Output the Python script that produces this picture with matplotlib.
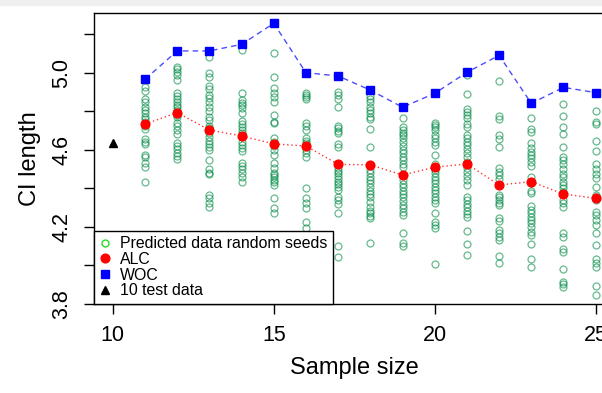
import numpy as np
import matplotlib
matplotlib.use('Agg')
import matplotlib.pyplot as plt
from matplotlib.lines import Line2D
from matplotlib.patches import Rectangle

plt.rcParams['font.family'] = ['Liberation Sans', 'DejaVu Sans']

# sample sizes and summary curves
sizes = list(range(11, 26))
alc = [4.733, 4.792, 4.702, 4.671, 4.630, 4.619, 4.524, 4.521,
       4.469, 4.509, 4.526, 4.417, 4.434, 4.370, 4.348]
woc = [4.965, 5.112, 5.112, 5.146, 5.255, 4.999, 4.982, 4.909,
       4.820, 4.892, 5.001, 5.089, 4.840, 4.923, 4.896]

# the 10 test data point
test_size = 10
test_ci = 4.633

# CI length for each random seed, one list per sample size
seed_ci = [
    [4.927, 4.906, 4.861, 4.847, 4.820, 4.806, 4.788, 4.771, 4.757, 4.743,
     4.723, 4.709, 4.657, 4.640, 4.629, 4.572, 4.560, 4.529, 4.512, 4.434],
    [5.030, 5.017, 5.003, 4.986, 4.961, 4.892, 4.878, 4.861, 4.849, 4.832,
     4.820, 4.806, 4.780, 4.768, 4.737, 4.723, 4.702, 4.681, 4.636, 4.619,
     4.602, 4.581, 4.567, 4.550],
    [5.082, 4.996, 4.975, 4.930, 4.916, 4.884, 4.866, 4.849, 4.820, 4.802,
     4.768, 4.754, 4.723, 4.711, 4.685, 4.664, 4.647, 4.630, 4.616, 4.598,
     4.547, 4.498, 4.481, 4.472, 4.365, 4.348, 4.325, 4.301],
    [5.117, 4.896, 4.858, 4.844, 4.830, 4.814, 4.792, 4.750, 4.733, 4.719,
     4.702, 4.685, 4.668, 4.642, 4.624, 4.607, 4.595, 4.533, 4.515, 4.498,
     4.477, 4.457, 4.434],
    [5.103, 4.975, 4.918, 4.896, 4.871, 4.849, 4.780, 4.745, 4.737, 4.659,
     4.642, 4.619, 4.598, 4.572, 4.529, 4.503, 4.481, 4.469, 4.457, 4.443,
     4.431, 4.417, 4.348, 4.296, 4.270],
    [4.896, 4.884, 4.871, 4.861, 4.740, 4.723, 4.702, 4.659, 4.647, 4.633,
     4.616, 4.598, 4.585, 4.564, 4.400, 4.348, 4.325, 4.299, 4.227, 4.192],
    [4.901, 4.884, 4.861, 4.820, 4.723, 4.711, 4.699, 4.685, 4.630, 4.616,
     4.503, 4.491, 4.477, 4.464, 4.450, 4.434, 4.422, 4.408, 4.391, 4.357,
     4.339, 4.318, 4.274, 4.101, 4.045],
    [4.878, 4.865, 4.849, 4.820, 4.806, 4.788, 4.771, 4.757, 4.706, 4.616,
     4.495, 4.477, 4.460, 4.443, 4.426, 4.408, 4.388, 4.370, 4.353, 4.331,
     4.305, 4.284, 4.270, 4.256, 4.244, 4.115],
    [4.763, 4.716, 4.702, 4.688, 4.676, 4.659, 4.642, 4.619, 4.598, 4.581,
     4.560, 4.547, 4.526, 4.509, 4.443, 4.422, 4.405, 4.388, 4.370, 4.353,
     4.336, 4.313, 4.296, 4.279, 4.261, 4.170, 4.118, 4.101],
    [4.740, 4.728, 4.716, 4.702, 4.676, 4.659, 4.642, 4.624, 4.572, 4.526,
     4.512, 4.495, 4.477, 4.460, 4.443, 4.426, 4.408, 4.391, 4.374, 4.357,
     4.339, 4.325, 4.270, 4.227, 4.210, 4.192, 4.007],
    [4.987, 4.889, 4.809, 4.797, 4.780, 4.763, 4.733, 4.716, 4.676, 4.659,
     4.642, 4.624, 4.602, 4.581, 4.560, 4.538, 4.503, 4.486, 4.464, 4.443,
     4.417, 4.357, 4.339, 4.318, 4.301, 4.284, 4.267, 4.249, 4.180, 4.111,
     4.054],
    [4.956, 4.775, 4.757, 4.676, 4.654, 4.612, 4.503, 4.486, 4.469, 4.446,
     4.365, 4.353, 4.339, 4.325, 4.313, 4.244, 4.232, 4.184, 4.166, 4.149,
     4.132, 4.049, 4.014],
    [4.763, 4.706, 4.693, 4.633, 4.607, 4.590, 4.572, 4.555, 4.538, 4.515,
     4.460, 4.426, 4.388, 4.374, 4.308, 4.287, 4.270, 4.253, 4.236, 4.218,
     4.201, 4.175, 4.158, 4.111, 4.032, 3.994],
    [4.837, 4.775, 4.719, 4.681, 4.612, 4.564, 4.547, 4.526, 4.498, 4.474,
     4.457, 4.434, 4.417, 4.400, 4.382, 4.339, 4.322, 4.305, 4.166, 4.146,
     4.083, 4.071, 3.980, 3.916, 3.904, 3.890],
    [4.802, 4.745, 4.733, 4.647, 4.595, 4.526, 4.498, 4.474, 4.452, 4.405,
     4.365, 4.353, 4.339, 4.279, 4.261, 4.236, 4.210, 4.166, 4.106, 4.032,
     4.014, 3.994, 3.893, 3.847],
]

legend_labels = ['Predicted data random seeds', 'ALC', 'WOC', '10 test data']

W, H = 602, 393
fig = plt.figure(figsize=(W / 100, H / 100), dpi=100)
# thin grey strip along the top edge of the screenshot
fig.patches.append(Rectangle((0, 1 - 5 / H), 1, 5 / H, transform=fig.transFigure,
                             color='#f0f0f0', zorder=0))

# plot region runs past the right edge of the picture
left, right, top, bottom = 93.5, 615, 13.3, 304
ax = fig.add_axes([left / W, 1 - bottom / H, (right - left) / W, (bottom - top) / H])

seed_x = np.repeat(sizes, [len(v) for v in seed_ci])
seed_y = np.concatenate([np.array(v) for v in seed_ci])
ax.plot(seed_x, seed_y, 'o', ls='none', mfc='none', mec='#008B45',
        ms=5.0, mew=0.9, alpha=0.6, zorder=2)

ax.plot(sizes, alc, color='red', lw=1.0, ls=(0, (1, 2)), alpha=0.8, zorder=3)
ax.plot(sizes, alc, 'o', ls='none', color='red', ms=6.3, zorder=4)
ax.plot(sizes, woc, color='blue', lw=1.0, ls=(0, (4, 3)), alpha=0.7, zorder=3)
ax.plot(sizes, woc, 's', ls='none', color='blue', ms=6.2, zorder=4)
ax.plot([test_size], [test_ci], '^', ls='none', color='black', ms=5.5, zorder=4)

ax.set_xlim(9.4, 25.6)
ax.set_ylim(3.8, 5.307)

yt = np.round(np.arange(3.8, 5.21, 0.2), 1)
ax.set_xticks([10, 15, 20, 25])
ax.set_yticks(yt)
ax.set_yticklabels(['%.1f' % v if i % 2 == 0 else '' for i, v in enumerate(yt)],
                   rotation=90, va='center')
ax.tick_params(direction='out', length=7, width=1, labelsize=15.5, colors='black')
ax.tick_params(axis='x', pad=8)
ax.tick_params(axis='y', pad=8)
for s in ax.spines.values():
    s.set_linewidth(1.0)
    s.set_color('black')

ax.set_xlabel('Sample size', fontsize=17)
ax.xaxis.label.set_va('center')
ax.xaxis.set_label_coords(0.5, (bottom - 368) / (bottom - top))
ax.set_ylabel('CI length', fontsize=17)
ax.yaxis.label.set_va('center')
ax.yaxis.set_label_coords((30 - left) / (right - left), 0.5)

handles = [
    Line2D([], [], marker='o', ls='none', mfc='none', mec='#22dd22', ms=5, mew=1),
    Line2D([], [], marker='o', ls='none', color='red', ms=6.3),
    Line2D([], [], marker='s', ls='none', color='blue', ms=5.5),
    Line2D([], [], marker='^', ls='none', color='black', ms=5.5),
]
leg = ax.legend(handles, legend_labels, loc='lower left', bbox_to_anchor=(0, 0),
                borderaxespad=0, fontsize=11.4, frameon=True, fancybox=False,
                edgecolor='black', framealpha=1, handlelength=0.8,
                handletextpad=0.5, labelspacing=0.05, borderpad=0.35)
leg.get_frame().set_linewidth(1.0)
leg.set_zorder(10)

fig.savefig('out.png', dpi=100)
